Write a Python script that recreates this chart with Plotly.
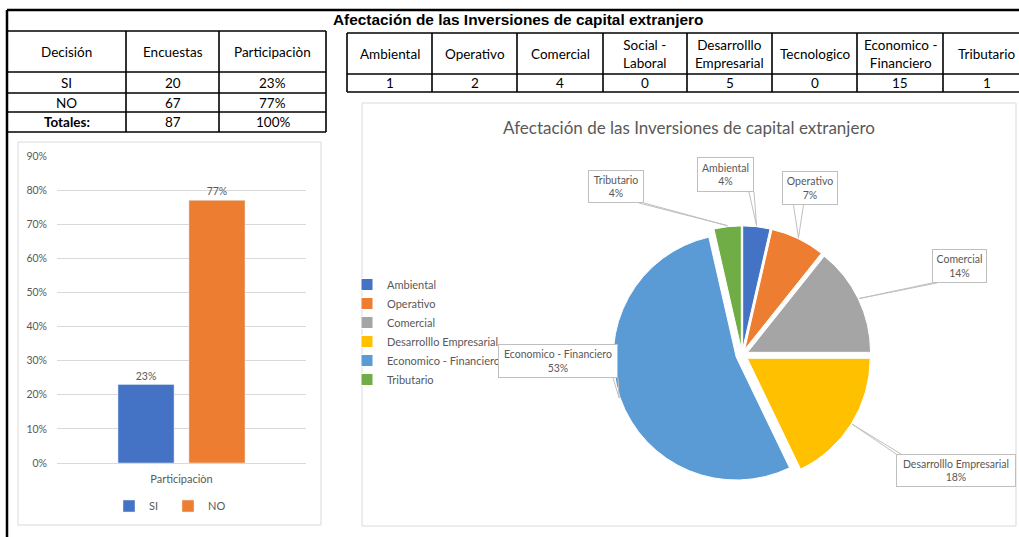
import math
import plotly.graph_objects as go

W, H = 1019, 537

# ---------------- data ----------------
decision = ["SI", "NO"]
encuestas = [20, 67]
participacion = [0.23, 0.77]
totales_label = "Totales:"
total_encuestas = 87
total_participacion = "100%"
left_headers = ["Decisión", "Encuestas", "Participaciòn"]
bar_category = ["Participaciòn"]

categorias = ["Ambiental", "Operativo", "Comercial", "Social -<br>Laboral",
              "Desarrolllo<br>Empresarial", "Tecnologico",
              "Economico -<br>Financiero", "Tributario"]
conteos = [1, 2, 4, 0, 5, 0, 15, 1]
# percentage labels as printed on the pie (zero categories are not drawn)
pie_pct_labels = ["4%", "7%", "14%", "18%", "53%", "4%"]

main_title = "Afectación de las Inversiones de capital extranjero"
pie_title = "Afectación de las Inversiones de capital extranjero"

# ---------------- styles ----------------
bar_colors = ["#4472C4", "#ED7D31"]
pie_colors = ["#4472C4", "#ED7D31", "#A5A5A5", "#FFC000", "#5B9BD5", "#70AD47"]
GRAY_TXT = "#595959"
FONT = "Lato"

def px(x):
    return x / W

def py(y):
    return 1 - y / H

shapes = []
annotations = []

def line(x0, y0, x1, y1, w=1.3, color="black"):
    shapes.append(dict(type="line", xref="paper", yref="paper",
                       x0=px(x0), y0=py(y0), x1=px(x1), y1=py(y1),
                       line=dict(color=color, width=w)))

def text(x, y, s, size=13.5, color="black", bold=False, family=FONT, **kw):
    if bold:
        s = "<b>" + s + "</b>"
    annotations.append(dict(xref="paper", yref="paper", x=px(x), y=py(y), text=s,
                            showarrow=False, xanchor="center", yanchor="middle",
                            font=dict(size=size, color=color, family=family), **kw))

# ---------------- frame & title ----------------
line(7, 10, 1019, 10, w=2.5)
line(7, 10, 7, 537, w=2.5)
text(518, 19, main_title, size=15.4, bold=True, family="Liberation Sans")

# ---------------- left table ----------------
lcols = [7, 126, 219, 326]
lrows = [31, 72, 93, 112, 132]
for y in lrows:
    line(lcols[0], y, lcols[-1], y, w=1.6)
for x in lcols:
    line(x, lrows[0], x, lrows[-1], w=1.6)

left_rows = [left_headers,
             [decision[0], str(encuestas[0]), f"{participacion[0]:.0%}"],
             [decision[1], str(encuestas[1]), f"{participacion[1]:.0%}"],
             [totales_label, str(total_encuestas), total_participacion]]
for r, row in enumerate(left_rows):
    yc = (lrows[r] + lrows[r + 1]) / 2 + 0.5
    for c, val in enumerate(row):
        xc = (lcols[c] + lcols[c + 1]) / 2
        text(xc, yc, val, size=13.5, bold=(r == 3 and c == 0))

# ---------------- right table ----------------
rcols = [347, 432, 517, 603, 687, 772, 857, 943, 1030]
rrows = [33, 74, 92]
for y in rrows:
    line(rcols[0], y, rcols[-1], y, w=1.6)
for x in rcols:
    line(x, rrows[0], x, rrows[-1], w=1.6)
for c, (cat, n) in enumerate(zip(categorias, conteos)):
    xc = (rcols[c] + rcols[c + 1]) / 2
    text(xc, (rrows[0] + rrows[1]) / 2 + 0.5, cat, size=13.5)
    text(xc, (rrows[1] + rrows[2]) / 2 + 0.5, str(n), size=13.5)

# ---------------- chart panels ----------------
shapes.append(dict(type="rect", xref="paper", yref="paper", layer="below",
                   x0=px(18), x1=px(321), y0=py(142), y1=py(525),
                   line=dict(color="#D9D9D9", width=1), fillcolor="white"))
shapes.append(dict(type="rect", xref="paper", yref="paper", layer="below",
                   x0=px(362), x1=px(1016), y0=py(103), y1=py(526),
                   line=dict(color="#D9D9D9", width=1), fillcolor="white"))

fig = go.Figure()

# ---------------- bar chart ----------------
for name, val, col in zip(decision, participacion, bar_colors):
    fig.add_trace(go.Bar(x=bar_category, y=[val], name=name, marker_color=col,
                         text=[f"{val:.0%}"], textposition="outside",
                         textfont=dict(size=10.5, color=GRAY_TXT, family=FONT),
                         cliponaxis=False, legend="legend"))

# ---------------- pie chart ----------------
pie_labels = [c.replace("<br>", " ") for c, n in zip(categorias, conteos) if n > 0]
pie_values = [n for n in conteos if n > 0]
PULL = 0.05
pcx, pcy, R = 742, 355, 123            # pie center / radius in px (layout)
half = R * (1 + PULL)
fig.add_trace(go.Pie(labels=pie_labels, values=pie_values, sort=False,
                     direction="clockwise", rotation=0, pull=PULL,
                     marker=dict(colors=pie_colors, line=dict(color="white", width=1)),
                     textinfo="none", hoverinfo="label+percent",
                     domain=dict(x=[px(pcx - half), px(pcx + half)],
                                 y=[py(pcy + half), py(pcy - half)]),
                     legend="legend2"))

text(689, 127, pie_title, size=17, color=GRAY_TXT)

# callout boxes: (center x, center y, width, height) in px  (layout only)
callouts = [(725.5, 174.5, 57, 35), (810, 188, 56, 34), (959.5, 266, 55, 34),
            (956, 470.5, 120, 33), (558, 361, 120, 34), (616, 186.5, 56, 33)]
total = sum(pie_values)
cum = 0.0
for lab, v, pct, (bx, by, bw, bh) in zip(pie_labels, pie_values, pie_pct_labels, callouts):
    mid = (cum + v / 2) / total * 2 * math.pi
    cum += v
    ax = pcx + (R * (1 + PULL) + 1) * math.sin(mid)
    ay = pcy - (R * (1 + PULL) + 1) * math.cos(mid)
    x0, x1, y0, y1 = bx - bw / 2, bx + bw / 2, by - bh / 2, by + bh / 2
    qx = min(max(ax, x0), x1)
    qy = min(max(ay, y0), y1)
    if qx in (x0, x1) and y0 < ay < y1 or (qx in (x0, x1) and qy not in (y0, y1)):
        a = (qx, max(y0, qy - 4)); b = (qx, min(y1, qy + 4))
    else:
        a = (max(x0, qx - 5), qy); b = (min(x1, qx + 5), qy)
    path = f"M {px(a[0])} {py(a[1])} L {px(ax)} {py(ay)} L {px(b[0])} {py(b[1])}"
    shapes.append(dict(type="path", xref="paper", yref="paper", path=path,
                       line=dict(color="#BFBFBF", width=1)))
    annotations.append(dict(xref="paper", yref="paper", x=px(bx), y=py(by),
                            text=f"{lab}<br>{pct}", showarrow=False,
                            xanchor="center", yanchor="middle",
                            width=bw - 2, height=bh - 2, borderpad=0,
                            bordercolor="#BFBFBF", borderwidth=1, bgcolor="white",
                            font=dict(size=10.5, color=GRAY_TXT, family=FONT)))

fig.update_layout(
    width=W, height=H, autosize=False,
    margin=dict(l=0, r=0, t=0, b=0, pad=0, autoexpand=False),
    paper_bgcolor="white", plot_bgcolor="white",
    barmode="group", bargap=0.43, bargroupgap=0.21,
    xaxis=dict(domain=[px(57), px(306)], showline=True, linecolor="#D9D9D9",
               linewidth=1, ticks="", tickfont=dict(size=11, color=GRAY_TXT, family=FONT),
               ticklabelstandoff=6, showgrid=False, fixedrange=True, automargin=False),
    yaxis=dict(domain=[py(463), py(156)], range=[0, 0.9], dtick=0.1, tickformat=".0%",
               showgrid=True, gridcolor="#D9D9D9", gridwidth=1, zeroline=False,
               showline=False, ticks="", ticklabelstandoff=9, automargin=False,
               tickfont=dict(size=10.5, color=GRAY_TXT, family=FONT), fixedrange=True),
    legend=dict(orientation="h", x=px(168), xanchor="center", y=py(506), yanchor="middle",
                font=dict(size=11, color=GRAY_TXT, family=FONT), bgcolor="rgba(0,0,0,0)",
                itemwidth=30, entrywidth=14),
    legend2=dict(orientation="v", x=px(347), xanchor="left", y=py(332), yanchor="middle",
                 font=dict(size=11, color=GRAY_TXT, family=FONT), bgcolor="rgba(0,0,0,0)",
                 itemwidth=30),
    shapes=shapes, annotations=annotations,
    showlegend=True,
)

fig.write_html("out.html", config={"displayModeBar": False},
               post_script="document.body.style.margin='0';document.body.style.overflow='hidden';")
